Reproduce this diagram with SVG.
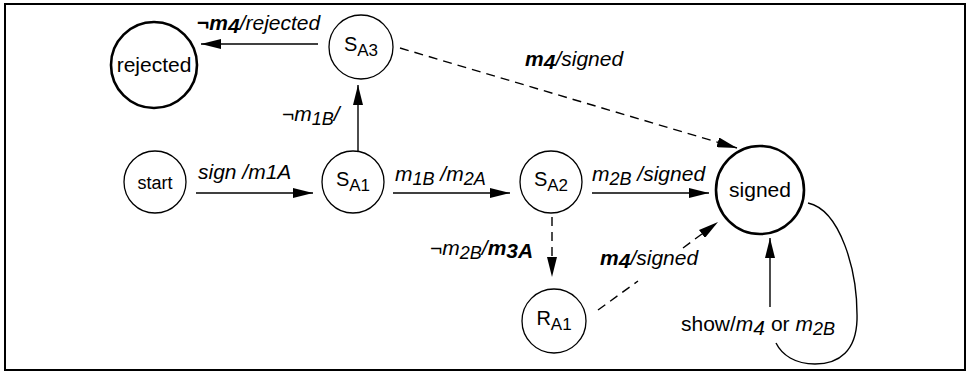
<svg xmlns="http://www.w3.org/2000/svg" width="972" height="375" viewBox="0 0 972 375">
<style>
text{font-family:"Liberation Sans",Arial,sans-serif;fill:#000}
.node{fill:#fff;stroke:#000;stroke-width:1.3}
.bold{fill:#fff;stroke:#000;stroke-width:2.6}
.nt{font-size:18px;text-anchor:middle}
.bt{font-size:21px;text-anchor:middle}
.lbl{font-size:21px;font-style:italic}
.b{font-weight:bold}
.r{font-style:normal}
.sub{font-size:18px}
.nsub{font-size:17px}
.edge{fill:none;stroke:#000;stroke-width:1.4}
.dash{stroke-dasharray:9,6}
</style>
<defs>
<marker id="ah" viewBox="0 0 20 10" refX="20" refY="5" markerWidth="20" markerHeight="10" orient="auto" markerUnits="userSpaceOnUse"><path d="M0,0 L20,5 L0,10 z" fill="#000"/></marker>
</defs>
<rect x="5" y="4" width="960" height="366" fill="#fff" stroke="#000" stroke-width="2"/>
<g id="connectors">
<line class="edge" x1="318" y1="44" x2="201" y2="44" marker-end="url(#ah)"/>
<line class="edge dash" x1="400" y1="48" x2="737" y2="148" marker-end="url(#ah)"/>
<line class="edge" x1="358" y1="151" x2="358" y2="85" marker-end="url(#ah)"/>
<line class="edge" x1="196" y1="193" x2="313" y2="193" marker-end="url(#ah)"/>
<line class="edge" x1="393" y1="193" x2="510" y2="193" marker-end="url(#ah)"/>
<line class="edge" x1="592" y1="193" x2="709" y2="193" marker-end="url(#ah)"/>
<line class="edge dash" x1="552" y1="217" x2="552" y2="277" marker-end="url(#ah)"/>
<line class="edge dash" x1="598" y1="310" x2="638" y2="281"/>
<line class="edge dash" x1="683" y1="248" x2="718" y2="222" marker-end="url(#ah)"/>
<path class="edge" d="M808,203 C840,210 858,270 857,320 C856,350 840,364 815,364 C795,364 782,355 776,343"/>
<line class="edge" x1="770" y1="307" x2="770" y2="238" marker-end="url(#ah)"/>
<text class="lbl" x="197" y="30"><tspan class="b">¬m</tspan><tspan class="b" dy="3">4</tspan><tspan dy="-3">/rejected</tspan></text>
<text class="lbl" x="525" y="66"><tspan class="b">m</tspan><tspan class="b" dy="3">4</tspan><tspan dy="-3">/signed</tspan></text>
<text class="lbl" x="282" y="121"><tspan class="r">¬</tspan>m<tspan class="sub" dy="4">1B</tspan><tspan dy="-4">/</tspan></text>
<text class="lbl" x="198" y="179">sign /m1A</text>
<text class="lbl" x="395" y="181">m<tspan class="sub" dy="4">1B</tspan><tspan dy="-4"> /m</tspan><tspan class="sub" dy="4">2A</tspan></text>
<text class="lbl" x="592" y="181">m<tspan class="sub" dy="4">2B</tspan><tspan dy="-4"> /signed</tspan></text>
<text class="lbl" x="430" y="255"><tspan class="r">¬</tspan>m<tspan class="sub" dy="4">2B</tspan><tspan dy="-4">/</tspan><tspan class="b">m</tspan><tspan class="b" dy="3">3A</tspan></text>
<text class="lbl" x="600" y="265"><tspan class="b">m</tspan><tspan class="b" dy="3">4</tspan><tspan dy="-3">/signed</tspan></text>
<text class="lbl r" x="681" y="331">show/<tspan class="lbl">m</tspan><tspan class="lbl" dy="4">4</tspan><tspan dy="-4"> or </tspan><tspan class="lbl">m</tspan><tspan class="lbl sub" dy="4">2B</tspan></text>
</g>
<g id="rejected"><circle class="bold" cx="154" cy="65" r="43"/><text class="bt" x="154" y="72" font-size="22">rejected</text></g>
<g id="SA3"><circle class="node" cx="361" cy="47" r="32"/><text class="nt" x="361" y="51"><tspan font-size="20">S</tspan><tspan class="nsub" dy="5">A3</tspan></text></g>
<g id="start"><circle class="node" cx="155" cy="182" r="31"/><text class="nt" x="155" y="189">start</text></g>
<g id="SA1"><circle class="node" cx="353" cy="182" r="31"/><text class="nt" x="353" y="186"><tspan font-size="20">S</tspan><tspan class="nsub" dy="5">A1</tspan></text></g>
<g id="SA2"><circle class="node" cx="551" cy="182" r="31"/><text class="nt" x="551" y="186"><tspan font-size="20">S</tspan><tspan class="nsub" dy="5">A2</tspan></text></g>
<g id="RA1"><circle class="node" cx="554" cy="321" r="32"/><text class="nt" x="554" y="325"><tspan font-size="20">R</tspan><tspan class="nsub" dy="5">A1</tspan></text></g>
<g id="signed"><circle class="bold" cx="760" cy="190" r="44"/><text class="bt" x="760" y="197">signed</text></g>
</svg>
